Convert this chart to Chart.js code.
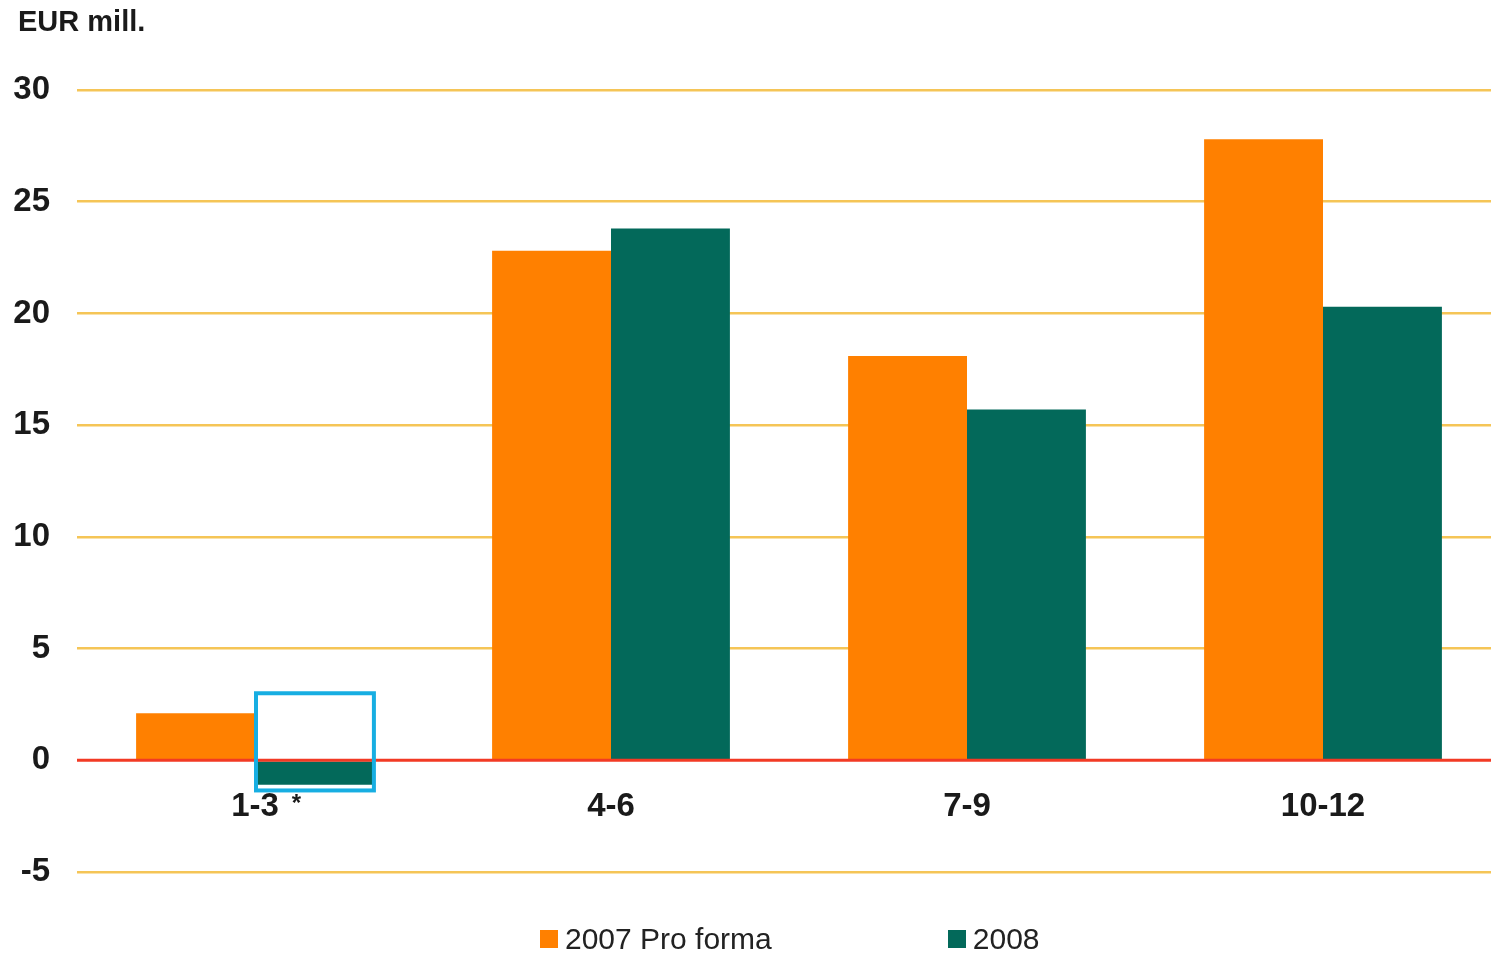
<!DOCTYPE html>
<html>
<head>
<meta charset="utf-8">
<script src="https://cdn.jsdelivr.net/npm/chart.js@4.4.1/dist/chart.umd.min.js"></script>
<style>
    html, body { margin: 0; padding: 0; background: #fff; overflow: hidden; }
    #wrap { position: relative; width: 1501px; height: 956px; }
    #unit { position: absolute; left: 18px; top: 5px; font: bold 29px "Liberation Sans", Arial, sans-serif; color: #1a1a1a; }
    #legend { position: absolute; left: 540px; top: 922px; display: flex; align-items: center;
              font: 30px "Liberation Sans", Arial, sans-serif; color: #222; }
    #legend .item { display: flex; align-items: center; }
    #legend .box { width: 18px; height: 18px; margin-right: 7px; }
</style>
</head>
<body>
<div id="wrap">
    <canvas id="chart" width="1501" height="956"></canvas>
    <div id="unit">EUR mill.</div>
    <div id="legend"></div>
</div>
<script>
const categories = ['1-3', '4-6', '7-9', '10-12'];
const categoryNotes = ['*', '', '', ''];
const proForma2007 = [2.1, 22.8, 18.1, 27.8];
const values2008 = [-1.1, 23.8, 15.7, 20.3];
const yTicks = [-5, 0, 5, 10, 15, 20, 25, 30];
// highlighted bar: series 1, category 0, box spans these values
const highlight = { dataset: 1, index: 0, top: 3, bottom: -1.35 };

const seriesNames = ['2007 Pro forma', '2008'];
const seriesColors = ['#FF8000', '#03695A'];

// draws zero line, x labels (at the zero line) and the blue highlight box
const overlayPlugin = {
    id: 'overlay',
    afterDatasetsDraw(chart) {
        const { ctx, chartArea, scales } = chart;
        const x = scales.x, y = scales.y;
        const y0 = y.getPixelForValue(0);

        ctx.save();
        ctx.strokeStyle = '#F23A24';
        ctx.lineWidth = 3;
        ctx.beginPath();
        ctx.moveTo(chartArea.left, y0);
        ctx.lineTo(chartArea.right, y0);
        ctx.stroke();

        ctx.fillStyle = '#1a1a1a';
        ctx.textBaseline = 'middle';
        categories.forEach((label, i) => {
            const cx = x.getPixelForValue(i);
            ctx.font = 'bold 33px "Liberation Sans", Arial, sans-serif';
            ctx.textAlign = 'center';
            ctx.fillText(label, cx, y0 + 47);
            if (categoryNotes[i]) {
                const w = ctx.measureText(label).width;
                ctx.font = 'bold 24px "Liberation Sans", Arial, sans-serif';
                ctx.textAlign = 'left';
                ctx.fillText(categoryNotes[i], cx + w / 2 + 13, y0 + 44);
            }
        });

        const bar = chart.getDatasetMeta(highlight.dataset).data[highlight.index];
        const top = y.getPixelForValue(highlight.top);
        const bottom = y.getPixelForValue(highlight.bottom);
        ctx.strokeStyle = '#17AEE2';
        ctx.lineWidth = 4;
        ctx.strokeRect(bar.x - bar.width / 2 + 1, top, bar.width - 1, bottom - top);
        ctx.restore();
    }
};

const ctx = document.getElementById('chart').getContext('2d');
const chart = new Chart(ctx, {
    type: 'bar',
    data: {
        labels: categories,
        datasets: [
            { label: seriesNames[0], data: proForma2007, backgroundColor: seriesColors[0] },
            { label: seriesNames[1], data: values2008, backgroundColor: seriesColors[1] }
        ]
    },
    options: {
        responsive: false,
        animation: false,
        events: [],
        layout: { padding: { left: 0, right: 0, top: 90, bottom: 84 } },
        datasets: {
            bar: { categoryPercentage: 0.668, barPercentage: 1, borderWidth: 0 }
        },
        plugins: {
            legend: { display: false },
            tooltip: { enabled: false }
        },
        scales: {
            x: { display: false },
            y: {
                min: -5,
                max: 30,
                afterFit: (scale) => { scale.width = 77; },
                afterBuildTicks: (scale) => { scale.ticks = yTicks.map(v => ({ value: v })); },
                border: { display: false },
                grid: {
                    drawTicks: false,
                    lineWidth: 2.5,
                    color: (c) => c.tick && c.tick.value === 0 ? 'rgba(0,0,0,0)' : '#F5C557'
                },
                ticks: {
                    padding: 27,
                    color: '#1a1a1a',
                    font: { family: '"Liberation Sans", Arial, sans-serif', size: 33, weight: 'bold' }
                }
            }
        }
    },
    plugins: [overlayPlugin]
});

// legend
const legendEl = document.getElementById('legend');
seriesNames.forEach((name, i) => {
    const item = document.createElement('div');
    item.className = 'item';
    if (i > 0) item.style.marginLeft = '176px';
    const box = document.createElement('div');
    box.className = 'box';
    box.style.backgroundColor = seriesColors[i];
    const txt = document.createElement('span');
    txt.textContent = name;
    item.appendChild(box);
    item.appendChild(txt);
    legendEl.appendChild(item);
});
</script>
</body>
</html>
